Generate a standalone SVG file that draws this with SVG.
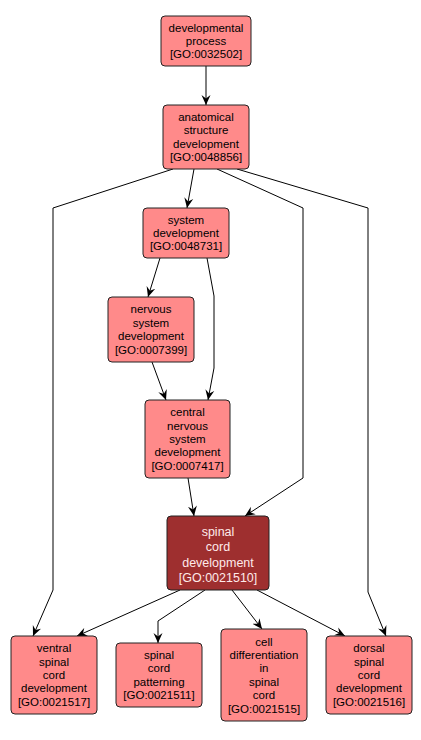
<svg xmlns="http://www.w3.org/2000/svg" width="421" height="740" viewBox="0 0 421 740">
<style>
.n rect{fill:#ff8a8a;stroke:#222;stroke-width:1}
.n text{font-family:"Liberation Sans",Arial,sans-serif;font-size:11.5px;fill:#000;text-anchor:middle;dominant-baseline:central}
#n6 rect{fill:#9e2f2f}
#n6 text{fill:#ffeaea;font-size:12.5px}
.e path{fill:none;stroke:#000;stroke-width:1;marker-end:url(#ah)}
</style>
<defs>
<marker id="ah" markerUnits="userSpaceOnUse" markerWidth="11" markerHeight="10" refX="10" refY="5" orient="auto">
<path d="M0,0.5 L10,5 L0,9.5 L3.5,5 Z" fill="#000"/>
</marker>
</defs>
<rect width="421" height="740" fill="#fff"/>
<g id="edges" class="e">
<path d="M206,66 L206,105"/>
<path d="M173,169 L53,208 L53,590 L33,636"/>
<path d="M194,169 L187,208"/>
<path d="M217,169 L303,208 L303,478 L245,516"/>
<path d="M237,169 L368,208 L368,592 L386,636"/>
<path d="M160,258 L148,297"/>
<path d="M207,258 L214,296 L214,368 L208,400"/>
<path d="M152,362 L166,400"/>
<path d="M188,478 L194,516"/>
<path d="M180,590 L77,636"/>
<path d="M205,590 L158,621 L158,643"/>
<path d="M232,590 L262,629"/>
<path d="M257,590 L345,636"/>
</g>
<g id="n1" class="n"><rect x="161" y="16" width="90" height="50" rx="4"/>
<text x="206" y="27.6">developmental</text><text x="206" y="41">process</text><text x="206" y="54.4">[GO:0032502]</text></g>
<g id="n2" class="n"><rect x="163" y="105" width="86" height="64" rx="4"/>
<text x="206" y="116.9">anatomical</text><text x="206" y="130.3">structure</text><text x="206" y="143.7">development</text><text x="206" y="157.1">[GO:0048856]</text></g>
<g id="n3" class="n"><rect x="143" y="208" width="86" height="50" rx="4"/>
<text x="186" y="219.6">system</text><text x="186" y="233">development</text><text x="186" y="246.4">[GO:0048731]</text></g>
<g id="n4" class="n"><rect x="108" y="297" width="86" height="65" rx="4"/>
<text x="151" y="309.4">nervous</text><text x="151" y="322.8">system</text><text x="151" y="336.2">development</text><text x="151" y="349.6">[GO:0007399]</text></g>
<g id="n5" class="n"><rect x="145" y="400" width="85" height="78" rx="4"/>
<text x="187.5" y="412.2">central</text><text x="187.5" y="425.6">nervous</text><text x="187.5" y="439">system</text><text x="187.5" y="452.4">development</text><text x="187.5" y="465.8">[GO:0007417]</text></g>
<g id="n6" class="n"><rect x="167" y="516" width="102" height="74" rx="4"/>
<text x="218" y="532">spinal</text><text x="218" y="547.3">cord</text><text x="218" y="562.6">development</text><text x="218" y="578">[GO:0021510]</text></g>
<g id="n7" class="n"><rect x="11" y="636" width="86" height="78" rx="4"/>
<text x="54" y="648.2">ventral</text><text x="54" y="661.6">spinal</text><text x="54" y="675">cord</text><text x="54" y="688.4">development</text><text x="54" y="701.8">[GO:0021517]</text></g>
<g id="n8" class="n"><rect x="116" y="643" width="86" height="64" rx="4"/>
<text x="159" y="654.9">spinal</text><text x="159" y="668.3">cord</text><text x="159" y="681.7">patterning</text><text x="159" y="695.1">[GO:0021511]</text></g>
<g id="n9" class="n"><rect x="221" y="629" width="86" height="92" rx="4"/>
<text x="264" y="641.5">cell</text><text x="264" y="654.9">differentiation</text><text x="264" y="668.3">in</text><text x="264" y="681.7">spinal</text><text x="264" y="695.1">cord</text><text x="264" y="708.5">[GO:0021515]</text></g>
<g id="n10" class="n"><rect x="326" y="636" width="86" height="78" rx="4"/>
<text x="369" y="648.2">dorsal</text><text x="369" y="661.6">spinal</text><text x="369" y="675">cord</text><text x="369" y="688.4">development</text><text x="369" y="701.8">[GO:0021516]</text></g>
</svg>
